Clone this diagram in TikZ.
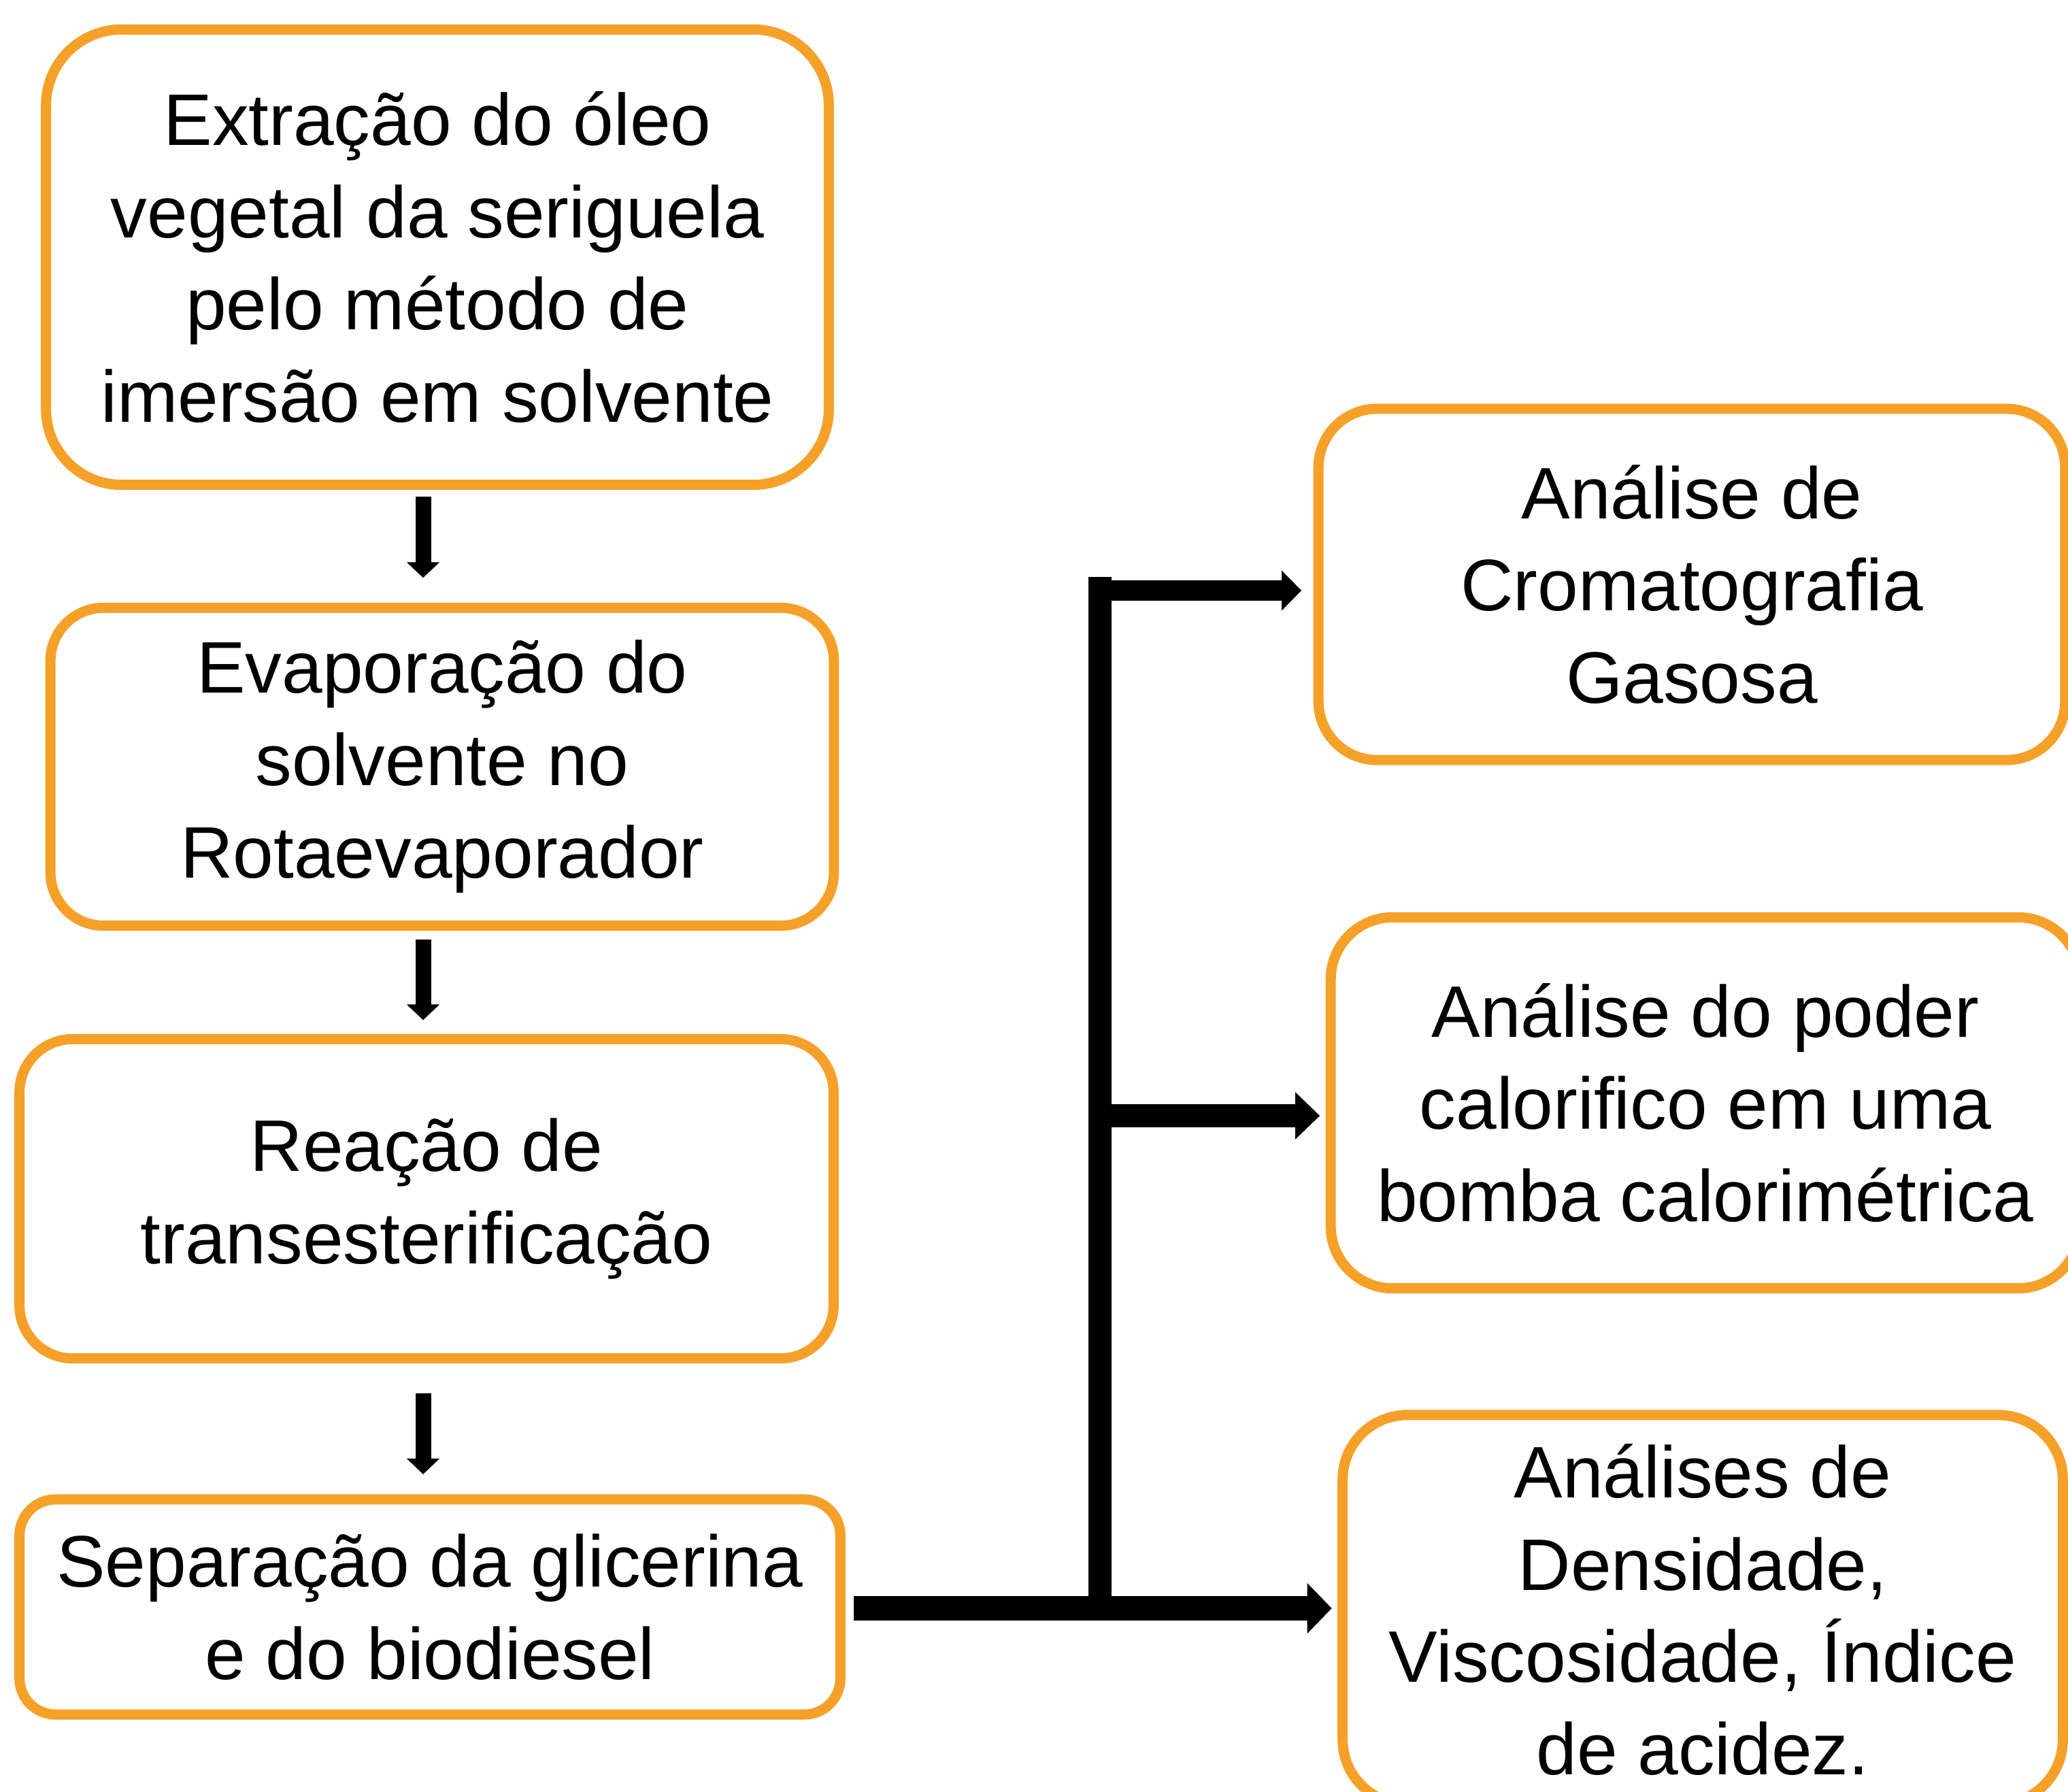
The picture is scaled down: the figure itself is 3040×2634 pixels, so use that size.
\documentclass[tikz,border=0pt]{standalone}
\usepackage{fontspec}
\setmainfont{Liberation Sans}
\usetikzlibrary{arrows.meta,positioning}
\definecolor{seriorange}{RGB}{245,161,41}

\begin{document}
\begin{tikzpicture}[
    x=0.01cm, y=-0.01cm,
    box/.style={rectangle, draw=seriorange, line width=0.15cm, outer sep=0pt, inner sep=0pt, align=center, font=\fontsize{30.5}{38.6}\selectfont},
    downarrow/.style={line width=0.23cm, -{Triangle[length=0.23cm, width=0.47cm]}},
    busarrow/.style={line width=0.36cm, -{Triangle[length=0.36cm, width=0.72cm]}}
]
    \useasboundingbox (0,0) rectangle (3040,2634);
    \clip (0,0) rectangle (3040,2634);

    % Left column
    \node[box, minimum width=11.5cm, minimum height=6.69cm, rounded corners=1.11cm] (extr) at (643,378) {Extração do óleo\\vegetal da seriguela\\pelo método de\\imersão em solvente};
    \node[box, minimum width=11.51cm, minimum height=4.67cm, rounded corners=0.78cm] (evap) at (650,1127) {Evaporação do\\solvente no\\Rotaevaporador};
    \node[box, minimum width=11.96cm, minimum height=4.69cm, rounded corners=0.78cm] (reac) at (627,1762) {Reação de\\transesterificação};
    \node[box, minimum width=12.06cm, minimum height=3.16cm, rounded corners=0.53cm] (sepa) at (632,2362) {Separação da glicerina\\e do biodiesel};

    % Right column
    \node[box, minimum width=10.97cm, minimum height=5.16cm, rounded corners=0.86cm] (crom) at (2487,859) {Análise de\\Cromatografia\\Gasosa};
    \node[box, minimum width=11.01cm, minimum height=5.45cm, rounded corners=0.91cm] (calo) at (2507,1621) {Análise do poder\\calorifico em uma\\bomba calorimétrica};
    \node[box, minimum width=10.58cm, minimum height=5.72cm, rounded corners=0.95cm] (dens) at (2503,2366) {Análises de\\Densidade,\\Viscosidade, Índice\\de acidez.};

    % Connectors
    \coordinate (col) at (622,0);
    \coordinate (bartop) at (1617,848);
    \coordinate (rowA) at (0,868);
    \coordinate (rowB) at (0,1640);
    \coordinate (rowC) at (0,2364);

    \draw[downarrow, shorten <=0.17cm, shorten >=0.44cm] (extr.south -| col) -- (evap.north -| col);
    \draw[downarrow, shorten <=0.20cm, shorten >=0.28cm] (evap.south -| col) -- (reac.north -| col);
    \draw[downarrow, shorten <=0.51cm, shorten >=0.37cm] (reac.south -| col) -- (sepa.north -| col);

    \draw[line width=0.34cm] (bartop) -- (rowC -| bartop);
    \draw[busarrow, shorten <=0.20cm, shorten >=0.16cm] (rowC -| sepa.east) -- (rowC -| dens.west);
    \draw[line width=0.34cm, -{Triangle[length=0.36cm, width=0.67cm]}, shorten >=0.16cm] (rowB -| bartop) -- (rowB -| calo.west);
    \draw[line width=0.29cm, -{Triangle[length=0.29cm, width=0.57cm]}, shorten >=0.25cm] (rowA -| bartop) -- (rowA -| crom.west);
\end{tikzpicture}
\end{document}
